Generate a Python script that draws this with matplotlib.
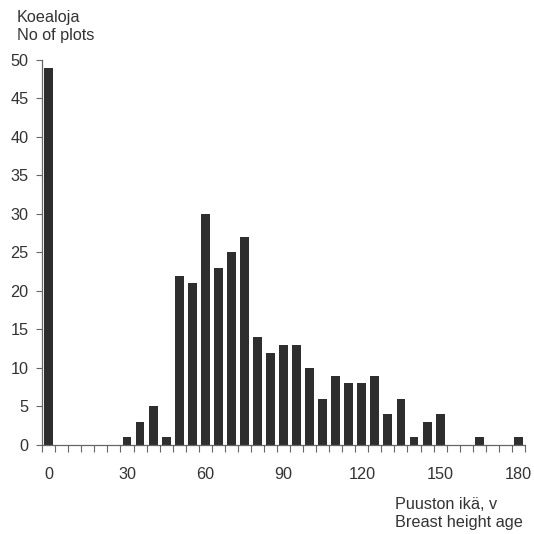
import matplotlib
matplotlib.use("Agg")
import matplotlib.pyplot as plt
import numpy as np

ages = list(range(0, 185, 5))
counts = [49, 0, 0, 0, 0, 0, 1, 3, 5, 1, 22, 21, 30, 23, 25, 27, 14, 12, 13, 13,
          10, 6, 9, 8, 8, 9, 4, 6, 1, 3, 4, 0, 0, 1, 0, 0, 1]
x_labels = [0, 30, 60, 90, 120, 150, 180]
y_ticks = list(range(0, 55, 5))

plt.rcParams['font.family'] = ['Liberation Sans', 'DejaVu Sans']
fs = 11.7
fig = plt.figure(figsize=(5.34, 5.34), dpi=100)
ax = fig.add_axes([0.079, 0.1667, 0.904, 0.7213])
col = '#2e2e2e'
ax.bar(ages, counts, width=3.4, color=col)
ax.set_xlim(-2.5, 182.5)
ax.set_ylim(0, 50)
ax.set_yticks(y_ticks)
ax.set_xticks(np.arange(-2.5, 183, 5))
ax.set_xticklabels([])
ax.set_xticks(x_labels, minor=True)
ax.set_xticklabels([str(v) for v in x_labels], minor=True)
ax.tick_params(axis='x', which='major', direction='out', length=5, width=0.8, color='#666666')
ax.tick_params(axis='x', which='minor', length=0, pad=15.5, labelsize=fs, labelcolor='#333333')
ax.tick_params(axis='y', direction='out', length=4, width=0.8, color='#666666', labelsize=fs, labelcolor='#333333', pad=6)
for s in ['top', 'right']:
    ax.spines[s].set_visible(False)
for s in ['left', 'bottom']:
    ax.spines[s].set_color('#666666')
    ax.spines[s].set_linewidth(0.9)
fig.text(0.031, 0.982, 'Koealoja\nNo of plots', fontsize=fs, color='#333333', va='top', ha='left', linespacing=1.3)
fig.text(0.739, 0.069, 'Puuston ikä, v\nBreast height age', fontsize=fs, color='#333333', va='top', ha='left', linespacing=1.22)
fig.savefig('out.png', dpi=100, facecolor='white')
